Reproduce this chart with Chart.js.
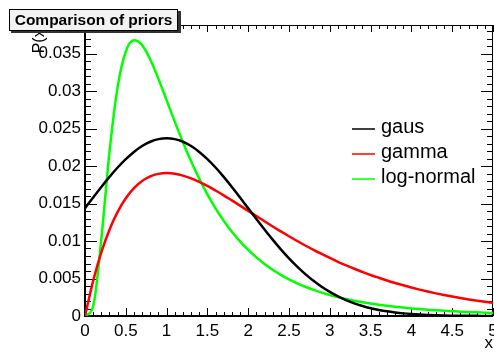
<!DOCTYPE html>
<html>
<head>
<meta charset="utf-8">
<script src="https://cdn.jsdelivr.net/npm/chart.js@4.4.1/dist/chart.umd.min.js"></script>
<style>
html,body{margin:0;padding:0;background:#fff;}
canvas{display:block;}
</style>
</head>
<body>
<canvas id="c" width="494" height="354"></canvas>
<script>
// ---- data ----
const titleText = "Comparison of priors";
const xTitle = "x";
const yTitle = "P(x)";
const xs = [0,0.1,0.2,0.3,0.4,0.5,0.6,0.7,0.8,0.9,1,1.1,1.2,1.3,1.4,1.5,1.6,1.7,1.8,1.9,2,2.1,2.2,2.3,2.4,2.5,2.6,2.7,2.8,2.9,3,3.1,3.2,3.3,3.4,3.5,3.6,3.7,3.8,3.9,4,4.1,4.2,4.3,4.4,4.5,4.6,4.7,4.8,4.9,5];
const gausVals = [0.01437,0.01581,0.01721,0.01855,0.01980,0.02092,0.02188,0.02266,0.02323,0.02358,0.02370,0.02358,0.02323,0.02266,0.02188,0.02092,0.01980,0.01855,0.01721,0.01581,0.01437,0.01294,0.01154,0.01018,0.00889,0.00769,0.00659,0.00559,0.00469,0.00390,0.00321,0.00261,0.00211,0.00168,0.00133,0.00104,0.00081,0.00062,0.00047,0.00035,0.00026,0.00019,0.00014,0.00010,0.00007,0.00005,0.00004,0.00003,0.00002,0.00001,0.00001];
const gammaVals = [0,0.00469,0.00848,0.01151,0.01389,0.01571,0.01706,0.01801,0.01862,0.01895,0.01906,0.01897,0.01872,0.01835,0.01788,0.01734,0.01673,0.01609,0.01541,0.01472,0.01402,0.01332,0.01263,0.01194,0.01128,0.01063,0.01000,0.00940,0.00882,0.00827,0.00774,0.00723,0.00676,0.00630,0.00588,0.00547,0.00510,0.00474,0.00440,0.00409,0.00380,0.00352,0.00326,0.00302,0.00280,0.00259,0.00240,0.00221,0.00205,0.00189,0.00175];
const lognormalVals = [0,0.00129,0.01024,0.02186,0.03055,0.03526,0.03676,0.03611,0.03419,0.03162,0.02878,0.02592,0.02318,0.02064,0.01832,0.01622,0.01436,0.01270,0.01124,0.00995,0.00881,0.00782,0.00694,0.00617,0.00549,0.00489,0.00436,0.00390,0.00348,0.00312,0.00280,0.00252,0.00226,0.00204,0.00184,0.00166,0.00150,0.00136,0.00123,0.00112,0.00101,0.00092,0.00084,0.00076,0.00070,0.00064,0.00058,0.00053,0.00049,0.00045,0.00041];
const seriesNames = ["gaus","gamma","log-normal"];
const xMin = 0, xMax = 5, xMajor = 0.5, xMinor = 0.1;
const yMin = 0, yMax = 0.0388, yMajor = 0.005, yMinor = 0.001;

// ---- styles ----
const FONT = '"Liberation Sans", Arial, Helvetica, sans-serif';
const colors = ["#000000","#ff0000","#00ff00"];

function fmt(v){ return String(Number(Number(v).toFixed(4))); }
function toPts(vals){ return xs.map((x,i)=>({x:x, y:vals[i]})); }

const rootFrame = {
  id: 'rootFrame',
  beforeDatasetsDraw(chart){
    const ctx = chart.ctx, a = chart.chartArea;
    const sx = chart.scales.x, sy = chart.scales.y;
    ctx.save();
    ctx.strokeStyle = '#000';
    ctx.lineWidth = 1;
    ctx.beginPath();
    const nx = Math.round((xMax - xMin)/xMinor);
    for(let i=0;i<=nx;i++){
      const v = xMin + i*xMinor;
      const major = (i % Math.round(xMajor/xMinor)) === 0;
      const px = Math.round(sx.getPixelForValue(v)) + 0.5;
      const L = major ? 8 : 4;
      ctx.moveTo(px, a.bottom); ctx.lineTo(px, a.bottom - L);
      const Lt = major ? 7 : 4;
      ctx.moveTo(px, a.top); ctx.lineTo(px, a.top + Lt);
    }
    const ny = Math.floor((yMax - yMin)/yMinor + 1e-6);
    for(let i=0;i<=ny;i++){
      const v = yMin + i*yMinor;
      const major = (i % Math.round(yMajor/yMinor)) === 0;
      const py = Math.round(sy.getPixelForValue(v)) + 0.5;
      const L = major ? 12 : 6;
      ctx.moveTo(a.left, py); ctx.lineTo(a.left + L, py);
      ctx.moveTo(a.right, py); ctx.lineTo(a.right - L, py);
    }
    ctx.stroke();
    ctx.lineWidth = 1;
    ctx.beginPath();
    ctx.moveTo(a.left, a.top + 0.5); ctx.lineTo(a.right, a.top + 0.5);
    ctx.moveTo(a.right - 0.5, a.top); ctx.lineTo(a.right - 0.5, a.bottom);
    ctx.stroke();
    ctx.lineWidth = 2;
    ctx.beginPath();
    ctx.moveTo(a.left, a.bottom); ctx.lineTo(a.right, a.bottom);
    ctx.moveTo(a.left, a.top); ctx.lineTo(a.left, a.bottom + 1);
    ctx.stroke();
    ctx.restore();
  },
  afterDraw(chart){
    const ctx = chart.ctx, a = chart.chartArea;
    ctx.save();
    // legend
    const ds = chart.data.datasets;
    ctx.font = '20px ' + FONT;
    ctx.textBaseline = 'middle';
    ctx.textAlign = 'left';
    const ly0 = 129, ldy = 25;
    ds.forEach((d,i)=>{
      const y = ly0 + i*ldy;
      ctx.strokeStyle = d.borderColor;
      ctx.lineWidth = 1.5;
      ctx.beginPath(); ctx.moveTo(352, y); ctx.lineTo(375, y); ctx.stroke();
      ctx.fillStyle = '#000';
      ctx.fillText(d.label, 381, y - 2);
    });
    // axis titles
    ctx.fillStyle = '#000';
    ctx.font = '17px ' + FONT;
    ctx.textAlign = 'right';
    ctx.textBaseline = 'alphabetic';
    ctx.fillText(xTitle, 493, 348);
    ctx.save();
    ctx.font = '16px ' + FONT;
    ctx.translate(44, 24);
    ctx.rotate(-Math.PI/2);
    ctx.fillText(yTitle, 0, 0);
    ctx.restore();
    // title box
    const bx = 9, by = 9, bw = 169, bh = 22;
    ctx.fillStyle = '#333';
    ctx.fillRect(bx + 2, by + 2, bw + 1, bh);
    ctx.fillStyle = '#f2f2f2';
    ctx.fillRect(bx, by, bw, bh);
    ctx.strokeStyle = '#000';
    ctx.lineWidth = 1;
    ctx.strokeRect(bx + 0.5, by + 0.5, bw - 1, bh - 1);
    ctx.fillStyle = '#000';
    ctx.font = 'bold 15.5px ' + FONT;
    ctx.textAlign = 'center';
    ctx.textBaseline = 'middle';
    ctx.fillText(titleText, bx + bw/2, by + bh/2 + 1);
    ctx.restore();
  }
};

new Chart(document.getElementById('c'), {
  type: 'line',
  data: {
    datasets: [
      {label: seriesNames[0], data: toPts(gausVals), borderColor: colors[0]},
      {label: seriesNames[1], data: toPts(gammaVals), borderColor: colors[1]},
      {label: seriesNames[2], data: toPts(lognormalVals), borderColor: colors[2]}
    ].map(d=>Object.assign(d, {borderWidth: 2.5, pointRadius: 0, fill: false, cubicInterpolationMode: 'monotone'}))
  },
  options: {
    responsive: false,
    animation: false,
    events: [],
    layout: {padding: {top: 25, right: 1, left: 0, bottom: 0}},
    plugins: {legend: {display: false}, title: {display: false}, tooltip: {enabled: false}},
    scales: {
      x: {
        type: 'linear', min: xMin, max: xMax,
        grid: {display: false, drawTicks: false}, border: {display: false},
        ticks: {stepSize: xMajor, autoSkip: false, maxRotation: 0, minRotation: 0, padding: 5, color: '#000',
                font: {family: FONT, size: 17}, callback: v => fmt(v)},
        afterFit(s){ s.height = 38; s.paddingLeft = 0; s.paddingRight = 0; }
      },
      y: {
        type: 'linear', min: yMin, max: yMax,
        grid: {display: false, drawTicks: false}, border: {display: false},
        ticks: {stepSize: yMajor, includeBounds: false, autoSkip: false, padding: 4, color: '#000',
                font: {family: FONT, size: 17}, callback: v => fmt(v)},
        afterFit(s){ s.width = 85; s.paddingTop = 0; s.paddingBottom = 0; }
      }
    }
  },
  plugins: [rootFrame]
});
</script>
</body>
</html>
